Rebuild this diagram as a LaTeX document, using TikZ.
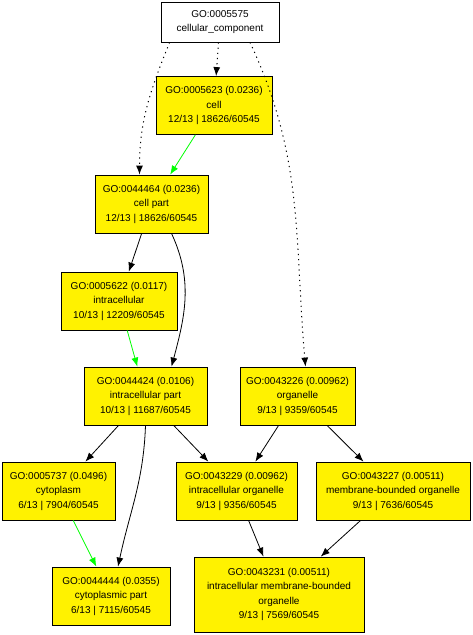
\documentclass[tikz,border=0pt]{standalone}
\usepackage{fontspec}
\setmainfont{Liberation Sans}
\usetikzlibrary{arrows.meta}

\begin{document}
\begin{tikzpicture}[->,>={Latex[length=9pt,width=7pt]},x=1pt,y=1pt,line width=0.8pt,
  every node/.style={font=\fontsize{10}{14.5}\selectfont,align=center,inner sep=0pt},
  term/.style={draw,fill=yellow,minimum height=58pt},
  top/.style={draw,fill=white,minimum height=40pt},
  isa/.style={green},
  dots/.style={dash pattern=on 1.2pt off 4pt,line width=1pt}]
  \useasboundingbox (0,0) rectangle (472,-635);
  \node[top,minimum width=118pt] (5575) at (220,-22) {GO:0005575\\cellular\_component};
  \node[term,minimum width=116pt] (5623) at (214,-105.5) {GO:0005623 (0.0236)\\cell\\12/13 | 18626/60545};
  \node[term,minimum width=113pt] (44464) at (151.5,-204) {GO:0044464 (0.0236)\\cell part\\12/13 | 18626/60545};
  \node[term,minimum width=116pt] (5622) at (119,-301) {GO:0005622 (0.0117)\\intracellular\\10/13 | 12209/60545};
  \node[term,minimum width=123pt] (44424) at (145.5,-396) {GO:0044424 (0.0106)\\intracellular part\\10/13 | 11687/60545};
  \node[term,minimum width=115pt] (43226) at (297.5,-396) {GO:0043226 (0.00962)\\organelle\\9/13 | 9359/60545};
  \node[term,minimum width=113pt] (5737) at (58.5,-491) {GO:0005737 (0.0496)\\cytoplasm\\6/13 | 7904/60545};
  \node[term,minimum width=121pt] (43229) at (236.5,-491) {GO:0043229 (0.00962)\\intracellular organelle\\9/13 | 9356/60545};
  \node[term,minimum width=154pt] (43227) at (393,-491) {GO:0043227 (0.00511)\\membrane-bounded organelle\\9/13 | 7636/60545};
  \node[term,minimum width=118pt] (44444) at (111,-596) {GO:0044444 (0.0355)\\cytoplasmic part\\6/13 | 7115/60545};
  \node[term,minimum width=170pt,minimum height=75pt] (43231) at (279,-594.5) {GO:0043231 (0.00511)\\intracellular membrane-bounded\\organelle\\9/13 | 7569/60545};
  \path (5575) edge[dots] (5623);
  \path ([xshift=9pt]5575.south west) edge[dots,out=-112,in=90] ([xshift=-12pt]44464.north);
  \path ([xshift=30pt]5575.south) edge[dots,out=-65,in=95] ([xshift=8pt]43226.north);
  \path (5623) edge[isa] (44464);
  \path (44464) edge (5622);
  \path ([xshift=20pt]44464.south) edge[out=-65,in=75] ([xshift=26pt]44424.north);
  \path (5622) edge[isa] (44424);
  \path (44424) edge (5737);
  \path (44424) edge (43229);
  \path (44424.south) edge[out=-92,in=78] ([xshift=7pt]44444.north);
  \path (43226) edge (43229);
  \path (43226) edge (43227);
  \path (5737) edge[isa] (44444);
  \path (43229) edge (43231);
  \path (43227) edge (43231);
\end{tikzpicture}
\end{document}
